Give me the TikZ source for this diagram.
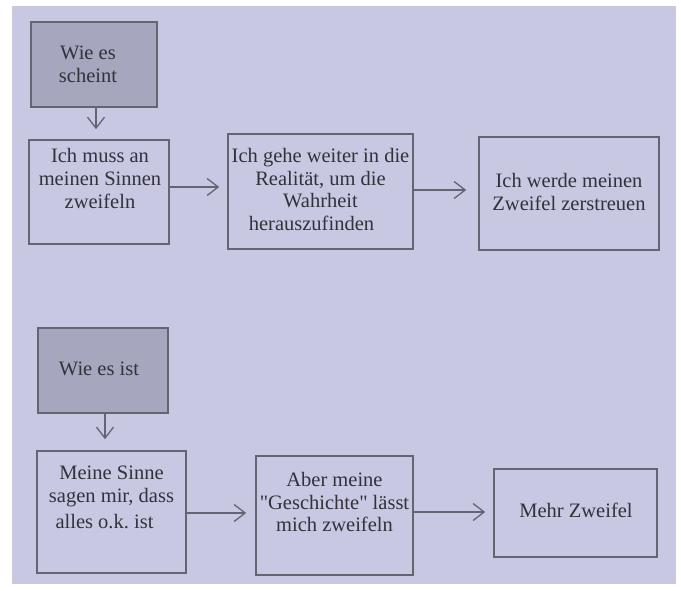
\documentclass[tikz,border=0pt]{standalone}
\usepackage{fontspec}
\setmainfont{Liberation Serif}
\usetikzlibrary{arrows.meta,calc}
\definecolor{bg}{RGB}{200,200,227}
\definecolor{darkfill}{RGB}{166,166,190}
\definecolor{edge}{RGB}{100,100,114}
\definecolor{ink}{RGB}{50,50,58}
\frenchspacing
\begin{document}
\begin{tikzpicture}[x=1pt,y=-1pt,
  box/.style={draw=edge, line width=1.6pt, fill=bg, inner sep=0pt},
  dbox/.style={box, fill=darkfill},
  txt/.style={text=ink, font=\fontsize{20.5}{22.7}\selectfont, align=center, inner sep=0pt},
  arr/.style={draw=edge, line width=1.3pt, -{Straight Barb[length=11pt,width=17pt]}}]
\useasboundingbox (0,0) rectangle (681,590);
\fill[bg] (12,6) rectangle (676,584);
% boxes
\node[dbox, minimum width=126pt, minimum height=85pt] (s0) at (94,64.5) {};
\node[box, minimum width=140pt, minimum height=104pt] (a1) at (99,192) {};
\node[box, minimum width=185pt, minimum height=115pt] (a2) at (320.5,191.5) {};
\node[box, minimum width=180pt, minimum height=113pt] (a3) at (569,193.5) {};
\node[dbox, minimum width=130pt, minimum height=85pt] (s1) at (103,370.5) {};
\node[box, minimum width=149pt, minimum height=122pt] (b1) at (111.5,512) {};
\node[box, minimum width=157pt, minimum height=119pt] (b2) at (334.5,515.5) {};
\node[box, minimum width=163pt, minimum height=88pt] (b3) at (575.5,513) {};
% texts
\node[txt] (ts0) at (88,64) {Wie es\\scheint};
\node[txt] (ta1) at (100,178.5) {Ich muss an\\meinen Sinnen\\zweifeln};
\node[txt] (ta2) at (320.5,189.5) {Ich gehe weiter in die\\Realität, um die\hspace*{12pt}\\Wahrheit\hspace*{28pt}\\herauszufinden\hspace*{18pt}};
\node[txt] (ta3) at (569,192) {Ich werde meinen\\Zweifel zerstreuen};
\node[txt] (ts1) at (99,369) {Wie es ist};
\node[txt] (tb1) at (111.5,497.5) {Meine Sinne\\sagen mir, dass\\[4pt]alles o.k. ist\hspace*{14pt}};
\node[txt] (tb2) at (334.5,502) {Aber meine\\\textquotedbl Geschichte\textquotedbl{} lässt\\mich zweifeln};
\node[txt] (tb3) at (576,510) {Mehr Zweifel};
% arrows
\draw[arr, shorten >=10pt] ([xshift=2pt]s0.south) -- ([xshift=2pt]s0.south |- a1.north);
\draw[arr, shorten >=8pt] ([yshift=5pt]a1.east) -- ([yshift=5pt]a1.east -| a2.west);
\draw[arr, shorten >=12pt] ([yshift=1.5pt]a2.east) -- ([yshift=1.5pt]a2.east -| a3.west);
\draw[arr, shorten >=11pt] ([xshift=2pt]s1.south) -- ([xshift=2pt]s1.south |- b1.north);
\draw[arr, shorten >=9pt] ([yshift=-1pt]b1.east) -- ([yshift=-1pt]b1.east -| b2.west);
\draw[arr, shorten >=8pt] ([yshift=3.5pt]b2.east) -- ([yshift=3.5pt]b2.east -| b3.west);
\end{tikzpicture}
\end{document}
